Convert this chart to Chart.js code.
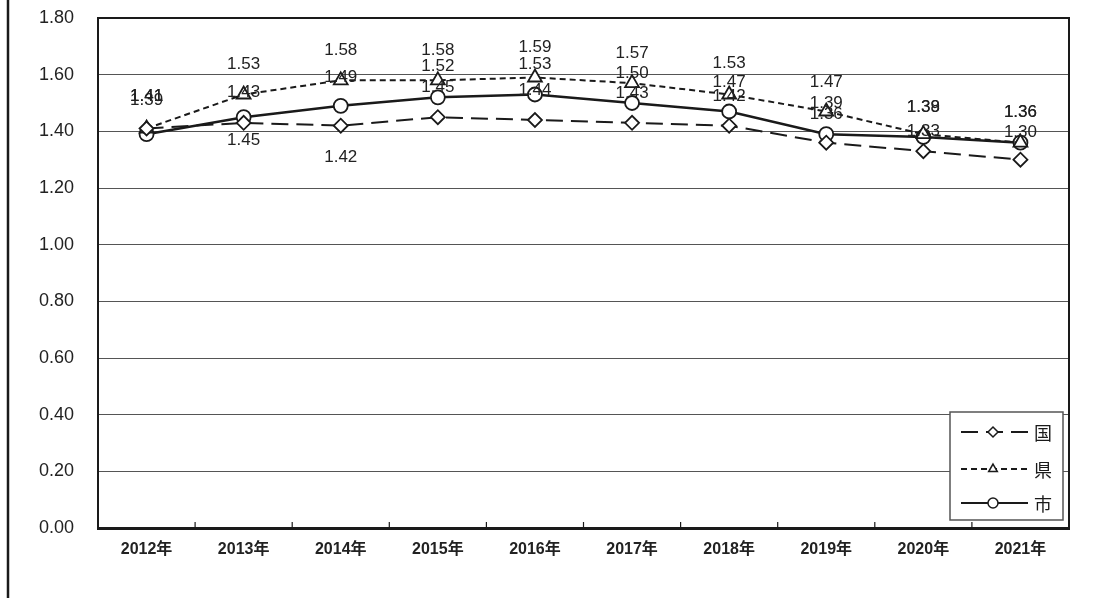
<!DOCTYPE html>
<html lang="ja">
<head>
<meta charset="utf-8">
<title>合計特殊出生率の推移</title>
<script src="https://cdn.jsdelivr.net/npm/chart.js@4.4.1/dist/chart.umd.min.js"></script>
<style>
  html, body { margin: 0; padding: 0; background: #fff; }
  #wrap { width: 1098px; height: 598px; }
</style>
</head>
<body>
<div id="wrap"><canvas id="rateChart" width="1098" height="598"></canvas></div>
<script>
// 合計特殊出生率
const years = ['2012年', '2013年', '2014年', '2015年', '2016年', '2017年', '2018年', '2019年', '2020年', '2021年'];
const nationRates = [1.41, 1.43, 1.42, 1.45, 1.44, 1.43, 1.42, 1.36, 1.33, 1.30];
const prefRates   = [1.41, 1.53, 1.58, 1.58, 1.59, 1.57, 1.53, 1.47, 1.39, 1.36];
const cityRates   = [1.39, 1.45, 1.49, 1.52, 1.53, 1.50, 1.47, 1.39, 1.38, 1.36];

// vertical shift of each value label from its point (px, negative = above)
const nationLabelDy = [-32, -31, 32, -30, -30, -30, -29, -28, -20, -27];
const prefLabelDy   = [-32, -30, -30, -30, -30, -30, -31, -29, -27, -30];
const cityLabelDy   = [-34, 23, -29, -31, -30, -30, -29, -31, -30, -30];

const INK = '#1a1a1a';

const seriesList = [
    { label: '国', data: nationRates, dy: nationLabelDy, dash: [17, 8], style: 'rectRot', radius: 7, width: 2 },
    { label: '県', data: prefRates,   dy: prefLabelDy,   dash: [6, 4],  style: 'triangle', radius: 8, width: 2 },
    { label: '市', data: cityRates,   dy: cityLabelDy,   dash: [],      style: 'circle', radius: 7, width: 2.5 }
];

// value text above/below every point
const valueLabels = {
    id: 'valueLabels',
    afterDatasetsDraw(chart) {
        const ctx = chart.ctx;
        ctx.save();
        ctx.font = '17px "Liberation Sans", Arial, sans-serif';
        ctx.fillStyle = '#222';
        ctx.textAlign = 'center';
        ctx.textBaseline = 'middle';
        chart.data.datasets.forEach((ds, di) => {
            const meta = chart.getDatasetMeta(di);
            meta.data.forEach((pt, i) => {
                ctx.fillText(ds.data[i].toFixed(2), pt.x, pt.y + ds.labelDy[i]);
            });
        });
        ctx.restore();
    }
};

// right edge of plot, outer rule, inward category ticks
const frame = {
    id: 'frame',
    afterDraw(chart) {
        const ctx = chart.ctx;
        const area = chart.chartArea;
        const xs = chart.scales.x;
        ctx.save();
        ctx.strokeStyle = INK;
        ctx.setLineDash([]);

        ctx.lineWidth = 2;
        ctx.beginPath();
        ctx.moveTo(area.right, area.top - 1);
        ctx.lineTo(area.right, area.bottom);
        ctx.stroke();

        ctx.lineWidth = 2.5;
        ctx.beginPath();
        ctx.moveTo(8, 0);
        ctx.lineTo(8, chart.height);
        ctx.stroke();

        ctx.lineWidth = 1.2;
        const step = xs.getPixelForValue(1) - xs.getPixelForValue(0);
        for (let i = 1; i < years.length; i++) {
            const x = xs.getPixelForValue(i) - step / 2;
            ctx.beginPath();
            ctx.moveTo(x, area.bottom);
            ctx.lineTo(x, area.bottom - 6);
            ctx.stroke();
        }
        ctx.restore();
    }
};

// boxed legend with line samples in the lower right
const boxLegend = {
    id: 'boxLegend',
    afterDraw(chart) {
        const ctx = chart.ctx;
        const bx = 950, by = 412, bw = 113, bh = 108;
        ctx.save();
        ctx.fillStyle = '#fff';
        ctx.fillRect(bx, by, bw, bh);
        ctx.strokeStyle = '#555';
        ctx.lineWidth = 1.5;
        ctx.strokeRect(bx, by, bw, bh);

        const rows = [432, 469, 503];
        chart.data.datasets.forEach((ds, i) => {
            const y = rows[i];
            ctx.strokeStyle = INK;
            ctx.lineWidth = 2;
            ctx.setLineDash(ds.borderDash);
            ctx.beginPath();
            ctx.moveTo(961, y);
            ctx.lineTo(1028, y);
            ctx.stroke();
            ctx.setLineDash([]);
            ctx.fillStyle = '#fff';
            ctx.lineWidth = 1.5;
            Chart.helpers.drawPoint(ctx, {
                pointStyle: ds.pointStyle, radius: 5, rotation: 0, borderWidth: 1.5
            }, 993, y);
            ctx.fillStyle = INK;
            ctx.font = '18px "Noto Sans CJK JP", sans-serif';
            ctx.textAlign = 'left';
            ctx.textBaseline = 'middle';
            ctx.fillText(ds.label, 1034, y + 1);
        });
        ctx.restore();
    }
};

new Chart(document.getElementById('rateChart'), {
    type: 'line',
    data: {
        labels: years,
        datasets: seriesList.map(s => ({
            label: s.label,
            data: s.data,
            labelDy: s.dy,
            borderColor: INK,
            borderWidth: s.width,
            borderDash: s.dash,
            pointStyle: s.style,
            pointRadius: s.radius,
            pointBorderWidth: 1.8,
            pointBorderColor: INK,
            pointBackgroundColor: '#fff',
            tension: 0,
            fill: false
        }))
    },
    options: {
        responsive: false,
        animation: false,
        layout: { padding: { left: 0, top: 18, right: 29, bottom: 0 } },
        plugins: {
            legend: { display: false },
            tooltip: { enabled: false }
        },
        scales: {
            x: {
                offset: true,
                grid: { display: false, drawTicks: false },
                border: { display: true, color: INK, width: 3 },
                ticks: {
                    color: '#222',
                    padding: 12,
                    maxRotation: 0,
                    font: { size: 16, weight: 'bold', family: '"Liberation Sans", "Noto Sans CJK JP", sans-serif' }
                },
                afterFit(scale) { scale.height = 70; }
            },
            y: {
                min: 0,
                max: 1.8,
                ticks: {
                    stepSize: 0.2,
                    color: '#222',
                    padding: 0,
                    font: { size: 18, family: '"Liberation Sans", Arial, sans-serif' },
                    callback: v => Number(v).toFixed(2)
                },
                grid: {
                    drawTicks: true,
                    tickLength: 24,
                    tickColor: 'rgba(0,0,0,0)',
                    color: c => (c.tick && c.tick.value > 1.79) ? INK : '#555',
                    lineWidth: c => (c.tick && c.tick.value > 1.79) ? 2 : 1
                },
                border: { color: INK, width: 2 },
                afterFit(scale) { scale.width = 98; }
            }
        }
    },
    plugins: [valueLabels, frame, boxLegend]
});
</script>
</body>
</html>
